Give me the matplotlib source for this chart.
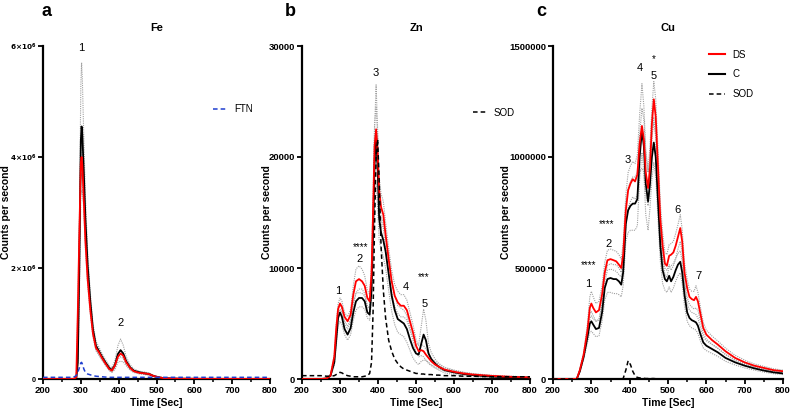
import matplotlib
matplotlib.use("Agg")
import matplotlib.pyplot as plt
import numpy as np
from matplotlib.ticker import MultipleLocator, FuncFormatter
from matplotlib.lines import Line2D

plt.rcParams['font.family'] = ['Liberation Sans', 'DejaVu Sans']

# ---------------- Fe (values in 1e6 counts/s) ----------------
t_fe = [200, 250, 280, 288, 292, 296, 300, 302, 304, 308, 312, 318, 325, 332, 340, 348, 356, 365, 375, 382,
        390, 398, 405, 412, 420, 430, 440, 455, 470, 480, 490, 500, 510, 520, 540, 560, 600, 650, 700, 750, 800]
fe_ds = [0, 0, 0, 0.03, 1.2, 2.6, 3.9, 4.0, 3.85, 3.2, 2.5, 1.8, 1.25, 0.82, 0.56, 0.48, 0.38, 0.28, 0.18, 0.15,
         0.24, 0.40, 0.46, 0.42, 0.30, 0.20, 0.14, 0.11, 0.10, 0.09, 0.06, 0.04, 0.025, 0.015, 0.008, 0.005,
         0.003, 0.002, 0.002, 0.001, 0.001]
fe_c = [0, 0, 0, 0.01, 0.3, 2.0, 4.3, 4.55, 4.4, 3.7, 2.9, 2.05, 1.4, 0.9, 0.6, 0.50, 0.40, 0.30, 0.20, 0.16,
        0.25, 0.45, 0.52, 0.46, 0.32, 0.21, 0.15, 0.12, 0.10, 0.09, 0.06, 0.04, 0.025, 0.015, 0.008, 0.005,
        0.003, 0.002, 0.002, 0.001, 0.001]
fe_ds_err = [0, 0, 0, 0.01, 0.1, 0.2, 0.3, 0.3, 0.3, 0.2, 0.15, 0.1, 0.08, 0.06, 0.05, 0.05, 0.04, 0.03, 0.03, 0.03,
             0.04, 0.05, 0.06, 0.05, 0.04, 0.03, 0.02, 0.02, 0.02, 0.02, 0.01, 0.01, 0.01, 0.005, 0.005, 0.003,
             0.002, 0.002, 0.001, 0.001, 0.001]
fe_c_err = [0, 0, 0, 0.01, 0.1, 0.6, 1.0, 1.15, 1.0, 0.6, 0.4, 0.25, 0.15, 0.1, 0.08, 0.07, 0.06, 0.05, 0.04, 0.04,
            0.08, 0.15, 0.20, 0.15, 0.08, 0.05, 0.03, 0.02, 0.02, 0.02, 0.015, 0.01, 0.01, 0.005, 0.005, 0.003,
            0.002, 0.002, 0.001, 0.001, 0.001]
fe_ftn = [0.03, 0.03, 0.03, 0.06, 0.12, 0.2, 0.29, 0.3, 0.27, 0.18, 0.12, 0.09, 0.075, 0.06, 0.05, 0.045, 0.04,
          0.035, 0.03, 0.03, 0.03, 0.03, 0.03, 0.03, 0.03, 0.03, 0.03, 0.03, 0.03, 0.03, 0.03, 0.03, 0.03, 0.03,
          0.03, 0.03, 0.03, 0.03, 0.03, 0.03, 0.03]

# ---------------- Zn (counts/s) ----------------
t_zn = [200, 250, 265, 275, 285, 290, 295, 300, 305, 312, 320, 328, 335, 342, 350, 358, 365, 372, 378, 383,
        387, 391, 395, 399, 403, 408, 414, 420, 428, 436, 444, 452, 460, 468, 476, 484, 492, 500, 507, 514,
        520, 526, 533, 540, 550, 560, 575, 600, 625, 650, 700, 750, 800]
zn_c = [0, 0, 50, 300, 1500, 3500, 5500, 6000, 5600, 4500, 4000, 4600, 6000, 7000, 7300, 7300, 7000, 6000, 5800, 8000,
        13000, 19500, 22000, 19000, 14500, 13200, 12500, 11500, 9500, 7500, 6200, 5400, 5200, 5000, 4500, 3600,
        2800, 2300, 2200, 3200, 4000, 3500, 2300, 1800, 1400, 1100, 800, 600, 450, 350, 220, 150, 100]
zn_ds = [0, 0, 50, 300, 2000, 4500, 6300, 6800, 6500, 5600, 5200, 5800, 7600, 8800, 9000, 8800, 8400, 7300, 7000, 9500,
         15000, 21000, 22500, 20500, 17000, 15500, 14800, 13000, 10800, 8800, 7500, 6900, 6600, 6600, 6200, 5200,
         4200, 3000, 2500, 2600, 2500, 2200, 1900, 1600, 1300, 1100, 850, 650, 500, 400, 280, 200, 150]
zn_c_err = [0, 0, 0, 100, 300, 500, 700, 800, 700, 500, 500, 600, 700, 800, 800, 800, 700, 500, 500, 800,
            1500, 3000, 4500, 3500, 2000, 1500, 1500, 1500, 1500, 1400, 1300, 1200, 1200, 1200, 1200, 1000,
            900, 800, 900, 1600, 2300, 1800, 900, 600, 400, 300, 250, 200, 150, 120, 80, 60, 50]
zn_ds_err = [0, 0, 0, 100, 200, 400, 500, 500, 500, 400, 400, 500, 800, 1100, 1200, 1100, 900, 700, 600, 900,
             1500, 2000, 2000, 1500, 1200, 1200, 1200, 1100, 1000, 1000, 1000, 1000, 1000, 1000, 900, 800,
             700, 600, 500, 500, 500, 500, 400, 300, 250, 200, 150, 120, 100, 80, 60, 50, 40]
zn_sod = [300, 300, 250, 250, 300, 400, 500, 600, 550, 400, 300, 250, 200, 200, 200, 200, 250, 300, 500, 1500,
          6000, 14000, 20000, 21600, 18000, 12000, 8000, 5500, 3500, 2500, 1800, 1400, 1100, 900, 800, 700,
          600, 500, 500, 450, 450, 400, 400, 400, 350, 350, 300, 300, 250, 250, 200, 200, 200]

# ---------------- Cu (values in 1000 counts/s) ----------------
t_cu = [200, 250, 262, 270, 280, 290, 296, 300, 305, 312, 320, 328, 335, 342, 350, 358, 365, 372, 378, 383,
        390, 396, 402, 408, 414, 420, 426, 432, 437, 442, 448, 453, 458, 463, 468, 474, 480, 486, 492, 497,
        503, 508, 514, 520, 526, 532, 537, 543, 550, 556, 562, 568, 573, 578, 585, 592, 600, 615, 630, 650,
        675, 700, 725, 750, 775, 800]
cu_ds = [0, 0, 0, 40, 110, 220, 320, 340, 320, 300, 310, 380, 480, 535, 540, 535, 530, 515, 500, 560,
         760, 850, 880, 900, 890, 920, 1060, 1140, 1080, 930, 860, 950, 1150, 1260, 1180, 950, 720, 600, 520, 510,
         555, 560, 570, 600, 640, 680, 620, 480, 410, 370, 360, 355, 370, 350, 290, 230, 200, 175, 155, 125,
         95, 75, 60, 50, 40, 35]
cu_c = [0, 0, 0, 35, 100, 190, 250, 260, 245, 225, 230, 300, 410, 450, 455, 450, 450, 440, 425, 480,
        700, 760, 780, 790, 790, 810, 1000, 1120, 1050, 880, 800, 880, 1000, 1065, 1000, 800, 600, 490, 450, 440,
        465, 440, 460, 490, 515, 528, 480, 380, 300, 275, 265, 260, 255, 240, 200, 165, 150, 135, 120, 95,
        75, 60, 48, 38, 30, 25]
cu_ds_err = [0, 0, 0, 5, 10, 30, 50, 55, 50, 40, 40, 40, 45, 45, 45, 45, 45, 45, 40, 50,
             70, 80, 80, 80, 80, 90, 130, 190, 150, 100, 80, 100, 70, 80, 80, 80, 70, 60, 50, 50,
             50, 50, 50, 55, 55, 60, 55, 45, 40, 35, 35, 40, 50, 40, 30, 25, 20, 18, 16, 14,
             12, 10, 8, 7, 6, 5]
cu_c_err = [0, 0, 0, 5, 10, 25, 40, 45, 40, 35, 35, 40, 55, 60, 65, 65, 65, 60, 55, 60,
            80, 100, 110, 120, 120, 120, 100, 100, 120, 140, 130, 110, 100, 90, 90, 80, 70, 60, 50, 50,
            50, 50, 50, 50, 50, 50, 50, 50, 40, 35, 35, 35, 35, 35, 30, 25, 22, 20, 18, 15,
            12, 10, 8, 7, 6, 5]
cu_sod = [0, 0, 0, 0, 0, 0, 0, 0, 0, 0, 0, 0, 0, 0, 0, 0, 0, 0, 0, 2,
          40, 82, 65, 35, 15, 7, 5, 4, 3, 2, 2, 3, 2, 2, 1, 0, 0, 0, 0, 0,
          0, 0, 0, 0, 0, 0, 0, 0, 0, 0, 0, 0, 0, 0, 0, 0, 0, 0, 0, 0,
          0, 0, 0, 0, 0, 0]

# annotations (centre x, centre y, text)
fe_ann = [(301, 5.97, "1"), (405, 1.0, "2")]
zn_ann = [(296, 7950, "1"), (352, 10800, "2"), (355, 11850, "****"), (393, 27600, "3"),
          (472, 8250, "4"), (520, 9150, "***"), (524, 6750, "5")]
cu_ann = [(292, 430, "1"), (294, 513, "****"), (345, 610, "2"), (341, 697, "****"), (394, 985, "3"),
          (426, 1401, "4"), (463, 1443, "*"), (463, 1363, "5"), (526, 763, "6"), (580, 463, "7")]

W, H = 792, 411
fig = plt.figure(figsize=(W / 100, H / 100), dpi=100)

RED = '#ff0000'
GRAY = '#a0a0a0'
lab_fs = 7.5
tick_fs = 6.8


def style_axis(ax, ylab_x):
    for s in ['top', 'right']:
        ax.spines[s].set_visible(False)
    for s in ['left', 'bottom']:
        ax.spines[s].set_linewidth(1.6)
    ax.set_xlim(200, 800)
    ax.xaxis.set_major_locator(MultipleLocator(100))
    ax.xaxis.set_minor_locator(MultipleLocator(50))
    ax.tick_params(axis='both', which='major', length=3.5, width=1.3, labelsize=tick_fs, pad=1.5)
    ax.tick_params(axis='x', which='minor', length=2.2, width=1.1)
    for lbl in ax.get_xticklabels() + ax.get_yticklabels():
        lbl.set_fontweight('bold')
    ax.set_xlabel('Time [Sec]', fontsize=lab_fs, fontweight='bold', labelpad=2)
    ax.set_ylabel('Counts per second', fontsize=lab_fs, fontweight='bold')
    ax.yaxis.set_label_coords(ylab_x, 0.5)


def draw(ax, t, ds, c, ds_err, c_err, scale):
    t = np.array(t)
    ds = np.array(ds) * scale
    c = np.array(c) * scale
    dse = np.array(ds_err) * scale
    ce = np.array(c_err) * scale
    for arr in [c + ce, c - ce, ds + dse, ds - dse]:
        ax.plot(t, np.clip(arr, 0, None), color=GRAY, lw=0.8, ls=(0, (1, 1)), zorder=2)
    ax.plot(t, c, color='black', lw=1.3, zorder=3)
    ax.plot(t, ds, color=RED, lw=1.3, zorder=4)


def annotate(ax, items, scale):
    for x, y, s in items:
        ax.text(x, y * scale, s, ha='center', va='center', fontsize=8 if '*' not in s else 7)


# panel a
ax1 = fig.add_axes([43 / W, 1 - 379 / H, 227 / W, 333 / H])
draw(ax1, t_fe, fe_ds, fe_c, fe_ds_err, fe_c_err, 1e6)
ax1.plot(t_fe, np.array(fe_ftn) * 1e6, color='#1f3fd0', lw=1.1, ls=(0, (3, 2)), zorder=5)
ax1.set_ylim(0, 6e6)
ax1.set_yticks([0, 2e6, 4e6, 6e6])
ax1.yaxis.set_major_formatter(FuncFormatter(
    lambda v, p: '0' if v == 0 else r'$\mathbf{%d{\times}10^6}$' % round(v / 1e6)))
style_axis(ax1, (11 - 43) / 227)
ax1.tick_params(axis='y', labelsize=5.2)
ax1.set_title('Fe', fontsize=8, fontweight='bold', pad=10.5)
annotate(ax1, fe_ann, 1e6)
ax1.legend([Line2D([], [], color='#1f3fd0', lw=1.1, ls=(0, (3, 2)))], ['FTN'], loc='center left',
           bbox_to_anchor=(0.71, 0.81), frameon=False, fontsize=7, handlelength=1.6, handletextpad=0.6)

# panel b
ax2 = fig.add_axes([302 / W, 1 - 379 / H, 228 / W, 333 / H])
draw(ax2, t_zn, zn_ds, zn_c, zn_ds_err, zn_c_err, 1)
ax2.plot(t_zn, zn_sod, color='black', lw=1.1, ls=(0, (3, 2)), zorder=5)
ax2.set_ylim(0, 30000)
ax2.set_yticks([0, 10000, 20000, 30000])
style_axis(ax2, (272 - 302) / 228)
ax2.set_title('Zn', fontsize=8, fontweight='bold', pad=10.5)
annotate(ax2, zn_ann, 1)
ax2.legend([Line2D([], [], color='black', lw=1.1, ls=(0, (3, 2)))], ['SOD'], loc='center left',
           bbox_to_anchor=(0.71, 0.80), frameon=False, fontsize=7, handlelength=1.6, handletextpad=0.6)

# panel c
ax3 = fig.add_axes([553 / W, 1 - 379 / H, 230 / W, 333 / H])
draw(ax3, t_cu, cu_ds, cu_c, cu_ds_err, cu_c_err, 1000)
ax3.plot(t_cu, np.array(cu_sod) * 1000, color='black', lw=1.1, ls=(0, (3, 2)), zorder=5)
ax3.set_ylim(0, 1.5e6)
ax3.set_yticks([0, 500000, 1000000, 1500000])
ax3.yaxis.set_major_formatter(FuncFormatter(lambda v, p: '%d' % round(v)))
style_axis(ax3, (511 - 553) / 230)
ax3.set_title('Cu', fontsize=8, fontweight='bold', pad=10.5)
annotate(ax3, cu_ann, 1000)
ax3.legend([Line2D([], [], color=RED, lw=1.5), Line2D([], [], color='black', lw=1.5),
            Line2D([], [], color='black', lw=1.1, ls=(0, (3, 2)))], ['DS', 'C', 'SOD'],
           loc='upper left', bbox_to_anchor=(0.64, 1.015), frameon=False, fontsize=7,
           handlelength=1.6, handletextpad=0.8, labelspacing=1.0)

for x, s in [(42, 'a'), (285, 'b'), (536, 'c')]:
    fig.text(x / W, 1 - 12 / H, s, fontsize=13, fontweight='bold', va='center', ha='left')

fig.savefig('out.png', dpi=100)
